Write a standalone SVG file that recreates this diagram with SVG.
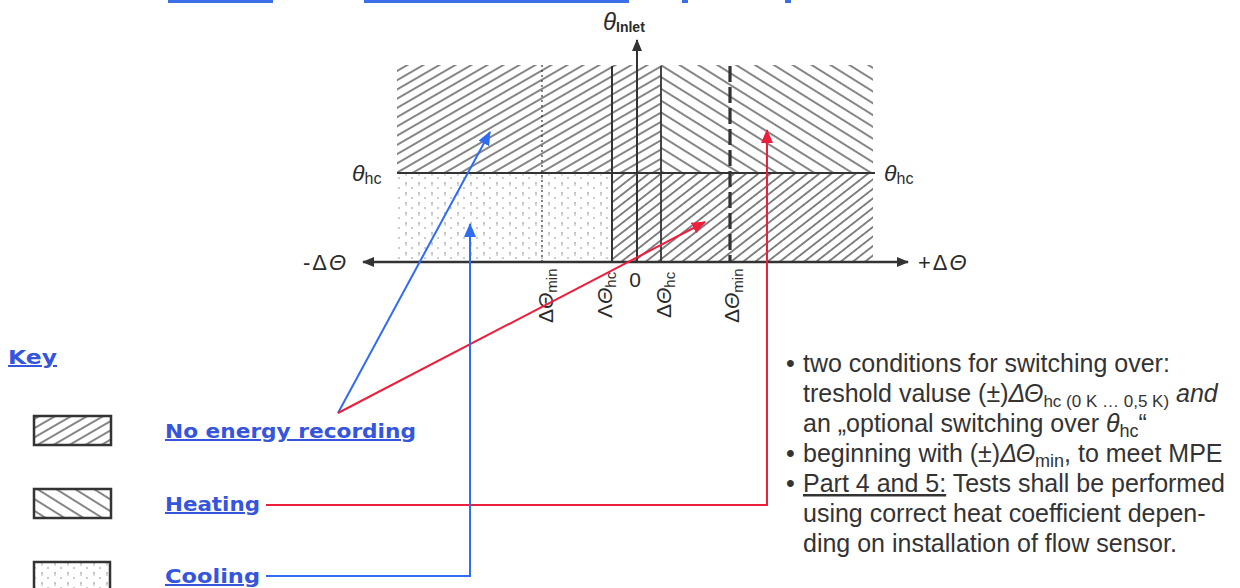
<svg xmlns="http://www.w3.org/2000/svg" width="1240" height="588" viewBox="0 0 1240 588">
<defs>
<style>
.ln{stroke:#333;fill:none}
.lbl{font-family:"Liberation Sans",Arial,sans-serif;fill:#2b2b2b}
.key{font-family:"DejaVu Sans","Liberation Sans",sans-serif;font-weight:bold;fill:#3556dc;text-decoration:underline}
.note{font-family:"Liberation Sans",Arial,sans-serif;font-size:25px;fill:#333}
.blue{stroke:#2f6cf0;stroke-width:2;fill:none}
.red{stroke:#ec1f3c;stroke-width:2;fill:none}
.box{stroke:#333;stroke-width:2.5}
</style>
<pattern id="hatchA" width="14" height="8" patternUnits="userSpaceOnUse" patternTransform="rotate(-30)">
<line x1="0" y1="4" x2="14" y2="4" stroke="#333" stroke-width="1.2"/>
</pattern>
<pattern id="hatchB" width="14" height="7.5" patternUnits="userSpaceOnUse" patternTransform="rotate(-38)">
<line x1="0" y1="3.75" x2="14" y2="3.75" stroke="#333" stroke-width="1.2"/>
</pattern>
<pattern id="hatchC" width="14" height="10" patternUnits="userSpaceOnUse" patternTransform="rotate(32)">
<line x1="0" y1="5" x2="14" y2="5" stroke="#333" stroke-width="1.2"/>
</pattern>
<pattern id="dots" width="13" height="10" patternUnits="userSpaceOnUse">
<circle cx="3" cy="3" r="0.8" fill="#777"/>
<circle cx="3" cy="5" r="0.7" fill="#999"/>
<circle cx="9" cy="8" r="0.8" fill="#888"/>
</pattern>
<marker id="ahDark" viewBox="0 0 12 10" refX="11" refY="5" markerWidth="12" markerHeight="10" markerUnits="userSpaceOnUse" orient="auto-start-reverse">
<path d="M0,0 L12,5 L0,10 z" fill="#333"/>
</marker>
<marker id="ahBlue" viewBox="0 0 14 12" refX="13" refY="6" markerWidth="14" markerHeight="12" markerUnits="userSpaceOnUse" orient="auto">
<path d="M0,0 L14,6 L0,12 z" fill="#2f6cf0"/>
</marker>
<marker id="ahRed" viewBox="0 0 14 12" refX="13" refY="6" markerWidth="14" markerHeight="12" markerUnits="userSpaceOnUse" orient="auto">
<path d="M0,0 L14,6 L0,12 z" fill="#ec1f3c"/>
</marker>
</defs>
<rect width="1240" height="588" fill="#fff"/>

<g id="topfragments">
<rect x="168" y="0" width="105" height="3" fill="#3a6fe8"/>
<rect x="364" y="0" width="265" height="3" fill="#3a6fe8"/>
<rect x="682" y="0" width="6" height="3" fill="#3a6fe8"/>
<rect x="785" y="0" width="6" height="3" fill="#3a6fe8"/>
</g>

<g id="chart">
<rect id="region-no-energy-top" x="397" y="65" width="264" height="108" fill="url(#hatchA)"/>
<rect id="region-heating" x="661" y="65" width="212" height="108" fill="url(#hatchC)"/>
<rect id="region-cooling" x="397" y="173" width="215" height="89" fill="url(#dots)"/>
<rect id="region-no-energy-bottom" x="612" y="173" width="261" height="89" fill="url(#hatchB)"/>
<line class="ln" x1="542" y1="65" x2="542" y2="262" stroke-width="1.2" stroke-dasharray="2 3" stroke="#888"/>
<line class="ln" x1="612" y1="66" x2="612" y2="262" stroke-width="2"/>
<line class="ln" x1="661" y1="66" x2="661" y2="262" stroke-width="1.8"/>
<line class="ln" x1="730" y1="66" x2="730" y2="262" stroke-width="3.2" stroke-dasharray="16 5"/>
<line class="ln" x1="397" y1="173" x2="875" y2="173" stroke-width="2.2"/>
<line class="ln" x1="637" y1="262" x2="637" y2="40" stroke-width="2" marker-end="url(#ahDark)"/>
<line class="ln" x1="363" y1="262" x2="908" y2="262" stroke-width="2.5" marker-start="url(#ahDark)" marker-end="url(#ahDark)"/>
</g>

<g id="axis-labels" class="lbl">
<text x="603" y="30" font-size="24" font-style="italic">θ<tspan font-size="14" font-style="normal" font-weight="bold" dy="2">Inlet</tspan></text>
<text x="352" y="181" font-size="23" font-style="italic">θ<tspan font-size="16" font-style="normal" dy="3">hc</tspan></text>
<text x="884" y="181" font-size="23" font-style="italic">θ<tspan font-size="16" font-style="normal" dy="3">hc</tspan></text>
<text x="303" y="270" font-size="22" letter-spacing="2">-Δ<tspan font-style="italic">Θ</tspan></text>
<text x="918" y="270" font-size="22" letter-spacing="2">+Δ<tspan font-style="italic">Θ</tspan></text>
<text x="635" y="287" font-size="21" text-anchor="middle">0</text>
<text transform="translate(553,323) rotate(-90)" font-size="21">Δ<tspan font-style="italic">Θ</tspan><tspan font-size="15" dy="4">min</tspan></text>
<text transform="translate(612,318) rotate(-90)" font-size="21">Λ<tspan font-style="italic">Θ</tspan><tspan font-size="15" dy="4">hc</tspan></text>
<text transform="translate(671,318) rotate(-90)" font-size="21">Δ<tspan font-style="italic">Θ</tspan><tspan font-size="15" dy="4">hc</tspan></text>
<text transform="translate(739,323) rotate(-90)" font-size="21">Δ<tspan font-style="italic">Θ</tspan><tspan font-size="15" dy="4">min</tspan></text>
</g>

<g id="key-title">
<text class="key" x="8" y="364" font-size="20" textLength="49" lengthAdjust="spacingAndGlyphs">Key</text>
</g>
<g id="legend-no-energy">
<rect class="box" x="34" y="416" width="77" height="29" fill="url(#hatchA)"/>
<text class="key" x="165" y="438" font-size="20" textLength="251" lengthAdjust="spacingAndGlyphs">No energy recording</text>
</g>
<g id="legend-heating">
<rect class="box" x="34" y="489" width="77" height="29" fill="url(#hatchC)"/>
<text class="key" x="165" y="511" font-size="20" textLength="95" lengthAdjust="spacingAndGlyphs">Heating</text>
</g>
<g id="legend-cooling">
<rect class="box" x="34" y="562" width="76" height="30" fill="url(#dots)"/>
<text class="key" x="165" y="583" font-size="20" textLength="95" lengthAdjust="spacingAndGlyphs">Cooling</text>
</g>

<g id="connectors">
<line class="blue" x1="338" y1="413" x2="490" y2="132" marker-end="url(#ahBlue)"/>
<line class="red" x1="338" y1="413" x2="705" y2="222" marker-end="url(#ahRed)"/>
<polyline class="red" points="266,505 767,505 767,130" marker-end="url(#ahRed)"/>
<polyline class="blue" points="266,576 470,576 470,224" marker-end="url(#ahBlue)"/>
</g>

<g id="notes" class="note">
<text x="786" y="372">•</text>
<text x="803" y="372">two conditions for switching over:</text>
<text x="803" y="402">treshold valuse (±)<tspan font-style="italic">ΔΘ</tspan><tspan font-size="17" dy="5">hc (0 K … 0,5 K)</tspan><tspan dy="-5" font-style="italic"> and</tspan></text>
<text x="803" y="432">an „optional switching over <tspan font-style="italic">θ</tspan><tspan font-size="18" dy="5">hc</tspan><tspan dy="-5">“</tspan></text>
<text x="786" y="462">•</text>
<text x="803" y="462">beginning with (±)<tspan font-style="italic">ΔΘ</tspan><tspan font-size="18" dy="5">min</tspan><tspan dy="-5">, to meet MPE</tspan></text>
<text x="786" y="492">•</text>
<text x="803" y="492"><tspan text-decoration="underline">Part 4 and 5:</tspan> Tests shall be performed</text>
<text x="803" y="522">using correct heat coefficient depen-</text>
<text x="803" y="552">ding on installation of flow sensor.</text>
</g>
</svg>
